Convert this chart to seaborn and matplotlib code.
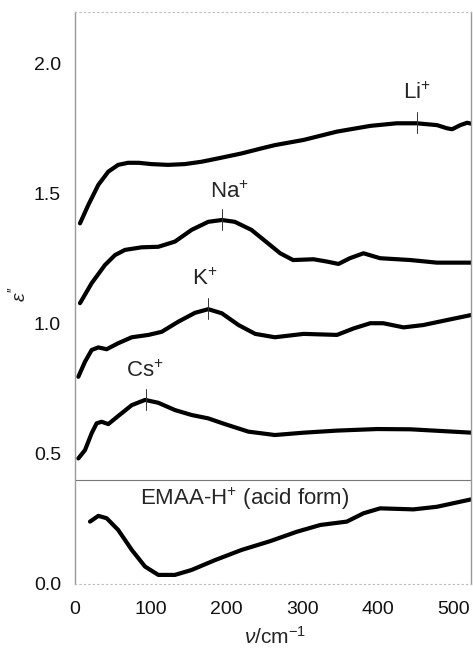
import numpy as np
import pandas as pd
import matplotlib
matplotlib.use("Agg")
import matplotlib.pyplot as plt
import seaborn as sns
from matplotlib.ticker import MultipleLocator

# ---- data ----
li_v = [6.6, 17.6, 30.8, 44, 57, 70, 84, 101, 123, 145, 167, 189, 220, 247, 264,
        302, 346, 390, 425, 451, 478, 491, 498, 509, 518, 524]
li_e = [1.387, 1.458, 1.535, 1.586, 1.612, 1.620, 1.620, 1.615, 1.612, 1.615, 1.624, 1.637, 1.656, 1.676, 1.688,
        1.708, 1.740, 1.762, 1.772, 1.772, 1.765, 1.753, 1.749, 1.765, 1.774, 1.770]

na_v = [6.6, 22, 39.6, 52.8, 66, 88, 110, 132, 154, 176, 194, 211, 233, 255, 271,
        288, 315, 333, 348, 363, 381, 403, 443, 478, 524]
na_e = [1.080, 1.157, 1.227, 1.265, 1.285, 1.295, 1.297, 1.317, 1.362, 1.393, 1.400, 1.393, 1.362, 1.310, 1.272,
        1.246, 1.249, 1.240, 1.231, 1.253, 1.272, 1.253, 1.246, 1.236, 1.236]

k_v = [4.4, 13.2, 22, 30.8, 41.8, 57, 75, 97, 114.5, 136.5, 158.5, 176, 194, 216, 238, 264,
       302, 346, 368, 390, 407, 434, 460, 491, 524]
k_e = [0.797, 0.855, 0.900, 0.910, 0.903, 0.926, 0.949, 0.958, 0.970, 1.009, 1.043, 1.057, 1.041, 0.996, 0.962, 0.949,
       0.962, 0.958, 0.983, 1.003, 1.003, 0.987, 0.996, 1.015, 1.035]

cs_v = [4.4, 13.2, 22, 28.6, 35.2, 44, 57, 75, 92.5, 110, 132, 154, 176, 198, 229, 264,
        302, 346, 399, 443, 524]
cs_e = [0.483, 0.515, 0.580, 0.618, 0.624, 0.615, 0.646, 0.688, 0.708, 0.697, 0.669, 0.650, 0.637, 0.615, 0.586, 0.573,
        0.582, 0.590, 0.596, 0.595, 0.582]

h_v = [19.8, 30.8, 41.8, 57, 75, 92.5, 110, 132, 154, 185, 220, 258,
       293, 324, 359, 381, 403, 447, 478, 524]
h_e = [0.240, 0.262, 0.253, 0.208, 0.131, 0.067, 0.035, 0.035, 0.054, 0.092, 0.131, 0.165,
       0.201, 0.227, 0.240, 0.272, 0.291, 0.287, 0.297, 0.326]

series_names = ["Li", "Na", "K", "Cs", "H"]
peak_v = [451.5, 193.7, 175.3, 93.3]          # peak marks for Li, Na, K, Cs
peak_e = [1.772, 1.400, 1.057, 0.708]
labels = ["Li$^{+}$", "Na$^{+}$", "K$^{+}$", "Cs$^{+}$"]
acid_label = "EMAA-H$^{+}$ (acid form)"
x_ticks = [0, 100, 200, 300, 400, 500]
y_ticks = [0.0, 0.5, 1.0, 1.5, 2.0]
separator = 0.4

frames = []
for name, v, e in zip(series_names, [li_v, na_v, k_v, cs_v, h_v], [li_e, na_e, k_e, cs_e, h_e]):
    frames.append(pd.DataFrame({"v": v, "eps": e, "series": name}))
df = pd.concat(frames, ignore_index=True)

sns.set_style("white")
plt.rcParams["font.family"] = ["Liberation Sans", "DejaVu Sans"]
plt.rcParams["mathtext.fontset"] = "custom"
plt.rcParams["mathtext.rm"] = "Liberation Sans"
plt.rcParams["mathtext.it"] = "Liberation Sans:italic"

fig = plt.figure(figsize=(4.73, 6.48), dpi=100)
ax = fig.add_axes([75 / 473, 1 - 584 / 648, (471 - 75) / 473, (584 - 12) / 648])

sns.lineplot(data=df, x="v", y="eps", units="series", estimator=None,
             color="black", linewidth=3.0, ax=ax, legend=False,
             solid_joinstyle="round", solid_capstyle="round")

# separator line
ax.axhline(separator, color="#777777", linewidth=0.8)

# peak marks
for pv, pe in zip(peak_v, peak_e):
    ax.plot([pv, pv], [pe - 0.038, pe + 0.042], color="#333333", linewidth=0.7)

# labels
txt_pos = [(452, 1.864), (204, 1.485), (171, 1.150), (92, 0.797)]
for (tx, ty), lab in zip(txt_pos, labels):
    ax.text(tx, ty, lab, ha="center", va="baseline", fontsize=16)
ax.text(86, 0.305, acid_label, ha="left", va="baseline", fontsize=16)

ax.set_xlim(0, 523)
ax.set_ylim(0, 2.2)
ax.set_xticks(x_ticks)
ax.set_yticks(y_ticks)
ax.set_yticklabels([f"{t:.1f}" for t in y_ticks])
ax.xaxis.set_minor_locator(MultipleLocator(20))
ax.yaxis.set_minor_locator(MultipleLocator(0.1))
ax.tick_params(axis="both", which="major", labelsize=14, color="#666666", width=0.8, labelcolor="#111111")
ax.tick_params(axis="y", which="major", direction="out", length=3, pad=7)
ax.tick_params(axis="y", which="minor", direction="out", length=2.5, color="#888888", width=0.6)
ax.tick_params(axis="x", which="major", direction="inout", length=4, pad=10)
ax.tick_params(axis="x", which="minor", direction="in", length=2, color="#888888", width=0.6)

for s in ["left", "right"]:
    ax.spines[s].set_color("#999999")
    ax.spines[s].set_linewidth(1.0)
for s in ["top", "bottom"]:
    ax.spines[s].set_color("#bbbbbb")
    ax.spines[s].set_linewidth(0.8)
    ax.spines[s].set_linestyle((0, (1, 3)))

ax.set_xlabel(r"$\it{\nu}$/cm$^{-1}$", fontsize=15)
ax.xaxis.set_label_coords(0.505, -0.073)
ax.set_ylabel(r"$\varepsilon''$", fontsize=14)
ax.yaxis.set_label_coords(-0.115, 0.507)

fig.savefig("out.png", dpi=100)
